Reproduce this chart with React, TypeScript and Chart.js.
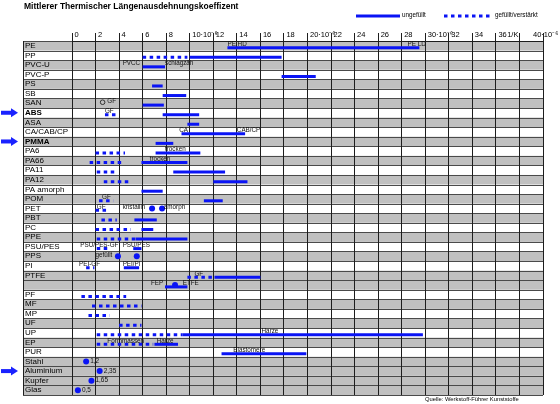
import React, { useEffect, useRef } from 'react';
import { Chart, registerables } from 'chart.js';

Chart.register(...registerables);

const TITLE = 'Mittlerer Thermischer Längenausdehnungskoeffizent';
const SOURCE = 'Quelle: Werkstoff-Führer Kunststoffe';
const LEGEND_SOLID = 'ungefüllt';
const LEGEND_DASHED = 'gefüllt/verstärkt';

const rows = [
  'PE', 'PP', 'PVC-U', 'PVC-P', 'PS', 'SB', 'SAN', 'ABS', 'ASA', 'CA/CAB/CP', 'PMMA',
  'PA6', 'PA66', 'PA11', 'PA12', 'PA amorph', 'POM', 'PET', 'PBT', 'PC', 'PPE', 'PSU/PES',
  'PPS', 'PI', 'PTFE', '', 'PF', 'MF', 'MP', 'UF', 'UP', 'EP', 'PUR',
  'Stahl', 'Aluminium', 'Kupfer', 'Glas',
];
const rowShade = [1, 0, 1, 0, 1, 0, 1, 0, 1, 0, 1, 0, 1, 0, 1, 0, 1, 0, 1, 0, 1, 0, 1, 0, 1, 1, 0, 1, 0, 1, 0, 1, 0, 1, 1, 1, 1];
const boldRows = ['ABS', 'PMMA'];
const arrowRows = ['ABS', 'PMMA', 'Aluminium'];

const xTickValues = [0, 2, 4, 6, 8, 10, 12, 14, 16, 18, 20, 22, 24, 26, 28, 30, 32, 34, 36, 38, 40];
const xTickLabels = ['0', '2', '4', '6', '8', '10·10⁻⁶', '12', '14', '16', '18', '20·10⁻⁶', '22', '24', '26', '28', '30·10⁻⁶', '32', '34', '36', '1/K', '40·10⁻⁶'];
// ticks whose labels sit left of their grid line
const xTickLabelsShifted = [38, 40];

// ungefüllt (solid) ranges: [row, from, to]
const solidBars: [string, number, number][] = [
  ['PE', 13.2, 29.5], ['PP', 10, 17.8], ['PVC-U', 6, 7.9], ['PVC-P', 17.8, 20.7],
  ['PS', 6.8, 7.7], ['SB', 7.7, 9.7], ['SAN', 6, 7.8], ['ABS', 7.7, 10.8], ['ASA', 9.8, 10.8],
  ['CA/CAB/CP', 9.3, 14.7], ['PMMA', 7.1, 8.6], ['PA6', 7.1, 10.9], ['PA66', 5.9, 9.8],
  ['PA11', 8.6, 13], ['PA12', 12, 14.9], ['PA amorph', 5.9, 7.7], ['POM', 11.2, 12.8],
  ['PBT', 5.3, 7.2], ['PC', 5.9, 6.9], ['PPE', 5.4, 9.8], ['PSU/PES', 5.2, 5.9], ['PI', 4.4, 5.7],
  ['PTFE', 12.1, 16], ['', 7.9, 9.8], ['UP', 9.4, 29.8], ['EP', 7, 9], ['PUR', 12.7, 19.9],
];
// gefüllt/verstärkt (dashed) ranges
const dashedBars: [string, number, number][] = [
  ['PP', 6, 9.8], ['ABS', 2.8, 3.7], ['PA6', 2, 4.5], ['PA66', 1.5, 4.2], ['PA11', 2.1, 3.8],
  ['PA12', 2.7, 4.8], ['POM', 2.3, 3.5], ['PET', 2, 3], ['PBT', 2.5, 3.8], ['PC', 2, 5],
  ['PPE', 2.1, 5.4], ['PSU/PES', 2.1, 3.2], ['PI', 1.2, 1.9], ['PTFE', 9.8, 11.9],
  ['PF', 0.8, 4.6], ['MF', 1.7, 5.9], ['MP', 1.4, 3.2], ['UF', 4, 5.9], ['UP', 2.1, 9.4], ['EP', 2.1, 6.9],
];
// single values (dots)
const dotPoints: [string, number][] = [
  ['PET', 6.8], ['PET', 7.65], ['PPS', 3.9], ['PPS', 5.5], ['', 8.75],
];
const metalPoints: [string, number][] = [
  ['Stahl', 1.2], ['Aluminium', 2.35], ['Kupfer', 1.65], ['Glas', 0.5],
];
const hollowPoints: [string, number][] = [['SAN', 2.6]];

const notes: [string, number, string][] = [
  ['PE', 13.2, 'PE HD'], ['PE', 28.5, 'PE LD'],
  ['PVC-U', 4.3, 'PVCC'], ['PVC-U', 7.9, 'schlagzäh'],
  ['SAN', 3.0, 'GF'], ['ABS', 2.8, 'GF'],
  ['CA/CAB/CP', 9.1, 'CA'], ['CA/CAB/CP', 14.0, 'CAB/CP'],
  ['PA6', 7.9, 'trocken'], ['PA66', 6.6, 'trocken'],
  ['POM', 2.55, 'GF'], ['PET', 2.1, 'GF'], ['PET', 4.3, 'kristallin'], ['PET', 7.8, 'amorph'],
  ['PSU/PES', 0.7, 'PSU/PES-GF'], ['PSU/PES', 4.3, 'PSU/PES'],
  ['PPS', 2.0, 'gefüllt'], ['PI', 0.6, 'PEI-GF'], ['PI', 4.3, 'PEI/PI'],
  ['PTFE', 10.4, 'GF'], ['', 6.7, 'FEP'], ['', 9.4, 'ETFE'],
  ['UP', 16.1, 'Harze'], ['EP', 3.0, 'Formmassen'], ['EP', 7.2, 'Harze'], ['PUR', 13.7, 'Elastomere'],
];

const BLUE = '#0a14f5';
const FONT = "'Liberation Sans', Arial, sans-serif";
const DASH = [3.5, 3.5];
const BAR_SHIFT = 0.2;
const TABLE_LEFT = 23;

const rowIdx = (r: string) => rows.indexOf(r);

const tablePlugin = {
  id: 'tablePlugin',
  beforeDraw(chart: any) {
    const { ctx, chartArea, scales } = chart;
    const y = scales.y;
    const right = chartArea.right;
    ctx.save();
    ctx.fillStyle = '#ffffff';
    ctx.fillRect(0, 0, chart.width, chart.height);
    rows.forEach((_, i) => {
      if (!rowShade[i]) return;
      const t = y.getPixelForValue(i - 0.5);
      const b = y.getPixelForValue(i + 0.5);
      ctx.fillStyle = '#c0c0c0';
      ctx.fillRect(TABLE_LEFT, t, right - TABLE_LEFT, b - t);
    });
    ctx.strokeStyle = '#4a4a4a';
    ctx.lineWidth = 1;
    for (let i = 0; i <= rows.length; i++) {
      const yy = Math.round(y.getPixelForValue(i - 0.5)) + 0.5;
      ctx.beginPath();
      ctx.moveTo(TABLE_LEFT, yy);
      ctx.lineTo(right, yy);
      ctx.stroke();
    }
    ctx.strokeStyle = '#1e1e1e';
    ctx.beginPath();
    ctx.moveTo(TABLE_LEFT + 0.5, chartArea.top);
    ctx.lineTo(TABLE_LEFT + 0.5, chartArea.bottom);
    ctx.stroke();
    ctx.restore();
  },
  afterDraw(chart: any) {
    const { ctx, scales, chartArea } = chart;
    const x = scales.x;
    const y = scales.y;
    ctx.save();
    // shifted axis labels
    ctx.fillStyle = '#000';
    ctx.font = `7.5px ${FONT}`;
    ctx.textBaseline = 'middle';
    xTickLabelsShifted.forEach((v) => {
      const label = xTickLabels[xTickValues.indexOf(v)];
      const px = x.getPixelForValue(v);
      if (v === 38) {
        ctx.textAlign = 'right';
        ctx.fillText(label, px - 1, chartArea.top - 6.5);
      } else {
        ctx.textAlign = 'left';
        ctx.fillText(label, px - 10, chartArea.top - 6.5);
      }
    });
    // notes
    ctx.fillStyle = '#111';
    ctx.font = `6.3px ${FONT}`;
    ctx.textBaseline = 'middle';
    ctx.textAlign = 'left';
    notes.forEach(([r, v, t]) => {
      ctx.fillText(t, x.getPixelForValue(v), y.getPixelForValue(rowIdx(r)) - 1.5);
    });
    // metal values
    ctx.font = `6.5px ${FONT}`;
    metalPoints.forEach(([r, v]) => {
      ctx.fillText(String(v).replace('.', ','), x.getPixelForValue(v) + 4, y.getPixelForValue(rowIdx(r)));
    });
    // arrows
    ctx.fillStyle = '#1a22ff';
    arrowRows.forEach((r) => {
      const cy = y.getPixelForValue(rowIdx(r));
      ctx.fillRect(1, cy - 2, 11, 4);
      ctx.beginPath();
      ctx.moveTo(11, cy - 4.5);
      ctx.lineTo(18, cy);
      ctx.lineTo(11, cy + 4.5);
      ctx.closePath();
      ctx.fill();
    });
    // title
    ctx.fillStyle = '#000';
    ctx.font = `bold 8.5px ${FONT}`;
    ctx.fillText(TITLE, 24, 7);
    // legend
    ctx.strokeStyle = BLUE;
    ctx.lineWidth = 3;
    ctx.beginPath();
    ctx.moveTo(356, 16);
    ctx.lineTo(400, 16);
    ctx.stroke();
    ctx.setLineDash(DASH);
    ctx.beginPath();
    ctx.moveTo(444, 16);
    ctx.lineTo(493, 16);
    ctx.stroke();
    ctx.setLineDash([]);
    ctx.font = `6.3px ${FONT}`;
    ctx.fillText(LEGEND_SOLID, 402, 15);
    ctx.fillText(LEGEND_DASHED, 495, 15);
    // source
    ctx.font = `5.8px ${FONT}`;
    ctx.fillText(SOURCE, 425, 399.5);
    ctx.restore();
  },
};

export default function App() {
  const ref = useRef<HTMLCanvasElement | null>(null);
  useEffect(() => {
    document.body.style.margin = '0';
    if (!ref.current) return;
    const segment = (r: string, a: number, b: number, dashed: boolean) => ({
      type: 'line' as const,
      data: [
        { x: a, y: rowIdx(r) + BAR_SHIFT },
        { x: b, y: rowIdx(r) + BAR_SHIFT },
      ],
      borderColor: BLUE,
      borderWidth: 3,
      borderDash: dashed ? DASH : [],
      borderCapStyle: 'butt' as const,
      pointRadius: 0,
      tension: 0,
      fill: false,
    });
    const datasets: any[] = [
      ...solidBars.map(([r, a, b]) => segment(r, a, b, false)),
      ...dashedBars.map(([r, a, b]) => segment(r, a, b, true)),
      {
        type: 'scatter',
        data: [...dotPoints, ...metalPoints].map(([r, v]) => ({ x: v, y: rowIdx(r) })),
        pointRadius: 3,
        pointBackgroundColor: BLUE,
        pointBorderColor: BLUE,
        pointBorderWidth: 0,
        showLine: false,
      },
      {
        type: 'scatter',
        data: hollowPoints.map(([r, v]) => ({ x: v, y: rowIdx(r) - 0.1 })),
        pointRadius: 2.3,
        pointBackgroundColor: 'rgba(0,0,0,0)',
        pointBorderColor: '#333',
        pointBorderWidth: 1,
        showLine: false,
      },
    ];
    const chart = new Chart(ref.current, {
      type: 'line',
      data: { datasets },
      plugins: [tablePlugin],
      options: {
        animation: false,
        responsive: false,
        events: [],
        layout: { padding: { left: 25, right: 17, top: 25, bottom: 9 } },
        plugins: { legend: { display: false }, tooltip: { enabled: false }, title: { display: false } },
        scales: {
          x: {
            type: 'linear',
            position: 'top',
            min: 0,
            max: 40,
            afterBuildTicks: (s: any) => {
              s.ticks = xTickValues.map((v) => ({ value: v }));
            },
            afterFit: (s: any) => {
              s.height = 16;
              s.paddingLeft = 0;
              s.paddingRight = 0;
            },
            grid: { color: '#1e1e1e', lineWidth: 1, tickLength: 8, drawOnChartArea: true },
            border: { display: true, color: '#1e1e1e' },
            ticks: {
              align: 'start',
              padding: -6,
              labelOffset: 2.5,
              maxRotation: 0,
              autoSkip: false,
              color: '#000',
              font: { size: 7.5, family: FONT },
              callback: (_v: any, i: number) =>
                xTickLabelsShifted.includes(xTickValues[i]) ? '' : xTickLabels[i],
            },
          },
          y: {
            type: 'linear',
            reverse: true,
            min: -0.5,
            max: rows.length - 0.5,
            afterBuildTicks: (s: any) => {
              s.ticks = rows.map((_, i) => ({ value: i }));
            },
            afterFit: (s: any) => {
              s.width = 47;
              s.paddingTop = 0;
              s.paddingBottom = 0;
            },
            grid: { display: false },
            border: { display: false },
            ticks: {
              crossAlign: 'far',
              autoSkip: false,
              padding: 0,
              color: '#000',
              font: ((c: any) => ({
                size: 8,
                family: FONT,
                weight: boldRows.includes(rows[c.index]) ? 'bold' : 'normal',
              })) as any,
              callback: (_v: any, i: number) => rows[i],
            },
          },
        },
      } as any,
    });
    return () => chart.destroy();
  }, []);
  return (
    <div style={{ position: 'absolute', left: 0, top: 0, width: 560, height: 404 }}>
      <canvas ref={ref} width={560} height={404} style={{ display: 'block' }} />
    </div>
  );
}
